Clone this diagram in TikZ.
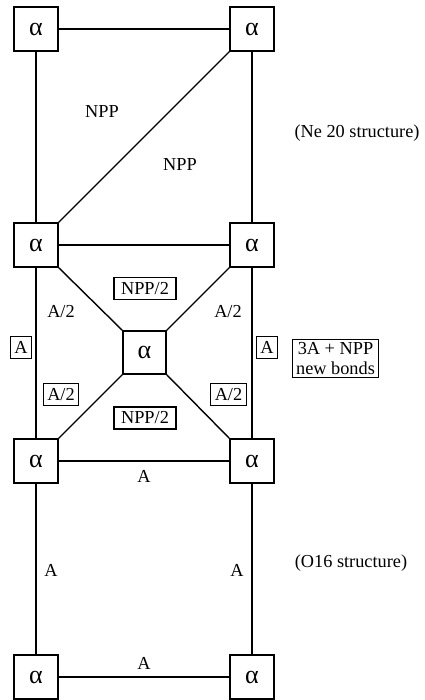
\documentclass[tikz,border=0pt]{standalone}
\usepackage{fontspec}
\setmainfont{Liberation Serif}
\begin{document}
\begin{tikzpicture}[x=1pt,y=-1pt,
  abox/.style={draw,line width=1.4pt,minimum size=44pt,inner sep=0pt,font=\fontsize{26}{26}\selectfont},
  lbl/.style={font=\fontsize{18.3}{20}\selectfont,inner sep=0pt},
  tbox/.style={draw,line width=1.2pt,font=\fontsize{18.3}{20}\selectfont,inner xsep=4pt,inner ysep=0pt,minimum height=22pt},
  bond/.style={line width=1.4pt}]
\useasboundingbox (0,0) rectangle (424,700);
\node[abox] (a1) at (36,29) {α};
\node[abox] (a2) at (252,29) {α};
\node[abox] (b1) at (36,245) {α};
\node[abox] (b2) at (252,245) {α};
\node[abox,minimum size=43pt] (c) at (144.5,352.5) {α};
\node[abox] (d1) at (36,461) {α};
\node[abox] (d2) at (252,461) {α};
\node[abox] (e1) at (36,677) {α};
\node[abox] (e2) at (252,677) {α};
\draw[bond] (a1) -- (a2);
\draw[bond] (a1) -- (b1);
\draw[bond] (a2) -- (b2);
\draw[bond] (b1.north east) -- (a2.south west);
\draw[bond] (b1) -- (b2);
\draw[bond] (b1.south east) -- (c.north west);
\draw[bond] (b2.south west) -- (c.north east);
\draw[bond] (c.south west) -- (d1.north east);
\draw[bond] (c.south east) -- (d2.north west);
\draw[bond] (b1) -- (d1);
\draw[bond] (b2) -- (d2);
\draw[bond] (d1) -- (d2);
\draw[bond] (d1) -- (e1);
\draw[bond] (d2) -- (e2);
\draw[bond] (e1) -- (e2);
\node[lbl] (n1) at (102,112) {NPP};
\node[lbl] (n2) at (180,165) {NPP};
\node[lbl] (ne) at (357,133) {(Ne 20 structure)};
\node[tbox,inner xsep=7pt] (h1) at (145,288.5) {NPP/2};
\node[lbl] (h2) at (61,312) {A/2};
\node[lbl] (h3) at (228,312) {A/2};
\node[tbox,inner xsep=3.5pt] (k1) at (21,347.5) {A};
\node[tbox,inner xsep=3.5pt] (k2) at (267,347.5) {A};
\node[tbox,align=center,inner ysep=2.5pt] (k3) at (335.5,358.5) {3A + NPP\\new bonds};
\node[tbox] (h4) at (61,394.5) {A/2};
\node[tbox] (h5) at (228.5,394.5) {A/2};
\node[tbox,inner xsep=7pt] (h6) at (145,418) {NPP/2};
\node[lbl] (l1) at (144,476) {A};
\node[lbl] (l2) at (51,570) {A};
\node[lbl] (l3) at (237,570) {A};
\node[lbl] (os) at (351,563) {(O16 structure)};
\node[lbl] (l4) at (144,663) {A};
\end{tikzpicture}
\end{document}
